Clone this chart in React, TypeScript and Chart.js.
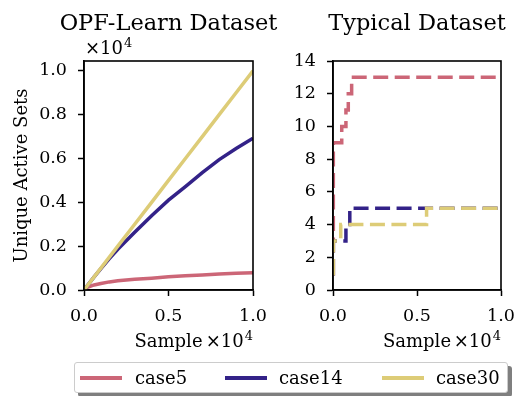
import React, { useEffect, useRef } from "react";
import { Chart, registerables } from "chart.js";
Chart.register(...registerables);

const SERIES = ["case5", "case14", "case30"];
const COLORS = ["#CC6677", "#332288", "#DDCC77"];

// OPF-Learn dataset (x = samples, y = unique active sets)
const opfSamples = [0, 200, 600, 1000, 1500, 2000, 3000, 4000, 5000, 6000, 7000, 8000, 9000, 10000];
const opfCase5 = [0, 120, 230, 300, 370, 420, 490, 540, 600, 650, 690, 730, 760, 790];
const opfCase14 = [0, 200, 600, 980, 1430, 1860, 2640, 3390, 4100, 4720, 5360, 5950, 6460, 6930];
const opfCase30 = [0, 200, 600, 1000, 1500, 2000, 3000, 4000, 5000, 6000, 7000, 8000, 9000, 10000];

// Typical dataset (step curves)
const typCase5X = [0, 20, 520, 770, 910, 1110, 10000];
const typCase5Y = [1, 9, 10, 11, 12, 13, 13];
const typCase14X = [0, 20, 770, 1000, 10000];
const typCase14Y = [1, 3, 4, 5, 5];
const typCase30X = [0, 20, 460, 5570, 10000];
const typCase30Y = [1, 3, 4, 5, 5];

const sampleTicks = [0, 5000, 10000];
const opfYTicks = [0, 2000, 4000, 6000, 8000, 10000];
const typYTicks = [0, 2, 4, 6, 8, 10, 12, 14];

const FONT = "'DejaVu Serif', serif";
const W = 518;
const H = 360;
const TICK_SIZE = 17.5;

function drawSci(ctx: CanvasRenderingContext2D, x: number, y: number, align: "left" | "right") {
  ctx.font = `18px ${FONT}`;
  const base = "\u00d710";
  const wb = ctx.measureText(base).width;
  ctx.font = `13px ${FONT}`;
  const we = ctx.measureText("4").width;
  const total = wb + 1 + we;
  const x0 = align === "left" ? x : x - total;
  ctx.textAlign = "left";
  ctx.font = `18px ${FONT}`;
  ctx.fillText(base, x0, y);
  ctx.font = `13px ${FONT}`;
  ctx.fillText("4", x0 + wb + 1, y - 7);
}

const textPlugin = {
  id: "texts",
  afterDraw(chart: any, _args: any, o: any) {
    const { ctx, chartArea: a } = chart;
    ctx.save();
    ctx.strokeStyle = "#000";
    ctx.lineWidth = 1.6;
    ctx.strokeRect(a.left, a.top, a.right - a.left, a.bottom - a.top);
    ctx.fillStyle = "#000";
    ctx.textBaseline = "alphabetic";
    const cx = (a.left + a.right) / 2;
    ctx.font = `22.5px ${FONT}`;
    ctx.textAlign = "center";
    ctx.fillText(o.title, cx, 29.5);
    ctx.font = `18px ${FONT}`;
    ctx.textAlign = "center";
    ctx.fillText("Sample", cx, 347);
    drawSci(ctx, a.right, 347, "right");
    if (o.yOffset) drawSci(ctx, a.left + 1, 54, "left");
    if (o.yLabel) {
      ctx.save();
      ctx.translate(27, (a.top + a.bottom) / 2);
      ctx.rotate(-Math.PI / 2);
      ctx.font = `18px ${FONT}`;
      ctx.textAlign = "center";
      ctx.fillText(o.yLabel, 0, 0);
      ctx.restore();
    }
    ctx.restore();
  },
};

function pts(xs: number[], ys: number[]) {
  return xs.map((x, i) => ({ x, y: ys[i] }));
}

function makeConfig(p: {
  data: { x: number; y: number }[][];
  dashed: boolean;
  yMax: number;
  yTicks: number[];
  yFmt: (v: number) => string;
  axisLeft: number;
  axisRight: number;
  title: string;
  yLabel?: string;
  yOffset?: boolean;
}): any {
  return {
    type: "line",
    data: {
      datasets: p.data.map((d, i) => ({
        label: SERIES[i],
        data: d,
        borderColor: COLORS[i],
        backgroundColor: COLORS[i],
        borderWidth: 3.5,
        pointRadius: 0,
        tension: 0,
        fill: false,
        order: 2 - i,
        stepped: p.dashed ? "before" : false,
        borderDash: p.dashed ? [15, 6.5] : [],
      })),
    },
    options: {
      animation: false,
      responsive: false,
      devicePixelRatio: 1,
      layout: { padding: { top: 61, right: W - p.axisRight, left: 0, bottom: 0 } },
      plugins: {
        legend: { display: false },
        tooltip: { enabled: false },
        texts: { title: p.title, yLabel: p.yLabel, yOffset: p.yOffset },
      },
      scales: {
        x: {
          type: "linear",
          min: 0,
          max: 10000,
          afterBuildTicks: (s: any) => {
            s.ticks = sampleTicks.map((v) => ({ value: v }));
          },
          afterFit: (s: any) => {
            s.height = H - 290;
            s.paddingLeft = 0;
            s.paddingRight = 0;
          },
          ticks: {
            color: "#000",
            font: { family: FONT, size: TICK_SIZE },
            padding: 10,
            maxRotation: 0,
            callback: (v: number) => (v / 10000).toFixed(1),
          },
          grid: { drawOnChartArea: false, drawTicks: true, tickLength: 6, tickWidth: 1.5, tickColor: "#000" },
          border: { display: true, color: "#000", width: 1.6 },
        },
        y: {
          type: "linear",
          min: 0,
          max: p.yMax,
          afterBuildTicks: (s: any) => {
            s.ticks = p.yTicks.map((v) => ({ value: v }));
          },
          afterFit: (s: any) => {
            s.width = p.axisLeft;
            s.paddingTop = 0;
            s.paddingBottom = 0;
          },
          ticks: {
            color: "#000",
            font: { family: FONT, size: TICK_SIZE },
            padding: 11,
            callback: (v: number) => p.yFmt(v),
          },
          grid: { drawOnChartArea: false, drawTicks: true, tickLength: 6, tickWidth: 1.5, tickColor: "#000" },
          border: { display: true, color: "#000", width: 1.6 },
        },
      },
    },
    plugins: [textPlugin],
  };
}

function ChartCanvas({ config }: { config: any }) {
  const ref = useRef<HTMLCanvasElement>(null);
  useEffect(() => {
    if (!ref.current) return;
    const c = new Chart(ref.current, config);
    return () => c.destroy();
  }, []);
  return (
    <canvas
      ref={ref}
      width={W}
      height={H}
      style={{ position: "absolute", left: 0, top: 0, width: W, height: H }}
    />
  );
}

export default function App() {
  const leftCfg = makeConfig({
    data: [pts(opfSamples, opfCase5), pts(opfSamples, opfCase14), pts(opfSamples, opfCase30)],
    dashed: false,
    yMax: 10450,
    yTicks: opfYTicks,
    yFmt: (v) => (v / 10000).toFixed(1),
    axisLeft: 84,
    axisRight: 253,
    title: "OPF-Learn Dataset",
    yLabel: "Unique Active Sets",
    yOffset: true,
  });
  const rightCfg = makeConfig({
    data: [pts(typCase5X, typCase5Y), pts(typCase14X, typCase14Y), pts(typCase30X, typCase30Y)],
    dashed: true,
    yMax: 14,
    yTicks: typYTicks,
    yFmt: (v) => String(v),
    axisLeft: 333,
    axisRight: 501,
    title: "Typical Dataset",
  });
  const linesX = [5, 150, 307];
  const textX = [60, 204, 361];
  return (
    <div style={{ position: "absolute", left: 0, top: 0, width: 518, height: 396, background: "#fff", overflow: "hidden" }}>
      <ChartCanvas config={leftCfg} />
      <ChartCanvas config={rightCfg} />
      <div
        style={{
          position: "absolute",
          left: 74,
          top: 362,
          width: 434,
          height: 31,
          boxSizing: "border-box",
          border: "1px solid #cccccc",
          borderRadius: 3,
          background: "#fff",
          boxShadow: "4px 4px 0 rgba(0,0,0,0.5)",
          fontFamily: FONT,
          fontSize: 18,
          color: "#000",
        }}
      >
        {SERIES.map((s, i) => (
          <React.Fragment key={s}>
            <div
              style={{
                position: "absolute",
                left: linesX[i],
                top: 13,
                width: 42,
                height: 3.5,
                background: COLORS[i],
              }}
            />
            <div
              style={{
                position: "absolute",
                left: textX[i],
                top: 0,
                height: 29,
                lineHeight: "29px",
                whiteSpace: "nowrap",
                fontFamily: FONT,
              }}
            >
              {s}
            </div>
          </React.Fragment>
        ))}
      </div>
    </div>
  );
}
